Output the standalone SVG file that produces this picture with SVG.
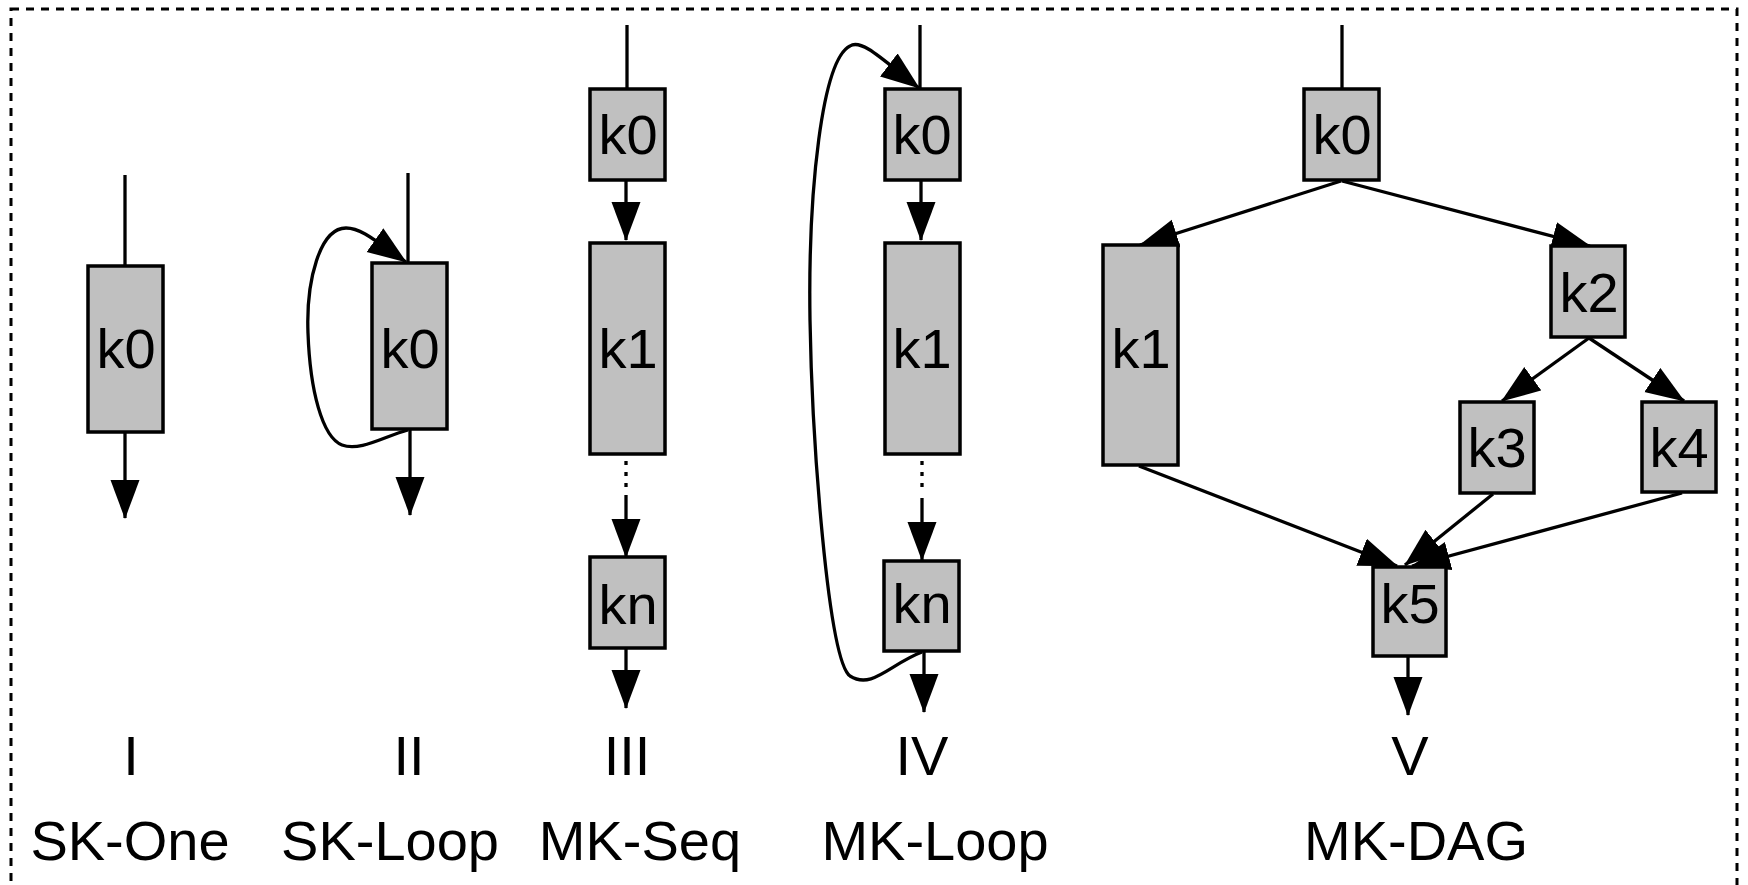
<svg xmlns="http://www.w3.org/2000/svg" width="1748" height="885" viewBox="0 0 1748 885">
<style>
.bg{fill:#fff}
.frame{fill:none;stroke:#000;stroke-width:3;stroke-dasharray:8 7}
.box{fill:#c0c0c0;stroke:#000;stroke-width:3.5}
.t{font-family:"Liberation Sans",Arial,sans-serif;font-size:56px;fill:#000;text-anchor:middle}
.e{fill:none;stroke:#000;stroke-width:3.3}
.a{marker-end:url(#ah)}
.dot{fill:none;stroke:#000;stroke-width:3.3;stroke-dasharray:4 7}
</style>
<defs>
<marker id="ah" markerUnits="userSpaceOnUse" markerWidth="40" markerHeight="30" refX="38" refY="14.5" orient="auto">
<path d="M0,0 L39,14.5 L0,29 z" fill="#000"/>
</marker>
</defs>
<rect class="bg" x="0" y="0" width="1748" height="885"/>
<rect class="frame" x="11" y="9" width="1726" height="900"/>

<g id="connectors">
<!-- I -->
<line class="e" x1="125" y1="175" x2="125" y2="266"/>
<line class="e a" x1="125" y1="432" x2="125" y2="518"/>
<!-- II -->
<line class="e" x1="408" y1="173" x2="408" y2="263"/>
<line class="e a" x1="410" y1="429" x2="410" y2="515"/>
<path class="e a" d="M408,430 C385,436 360,452 342,445 C322,437 310,390 308,333 C306,280 320,228 346,228 C360,228 372,238 406,262"/>
<!-- III -->
<line class="e" x1="627" y1="25" x2="627" y2="89"/>
<line class="e a" x1="626" y1="180" x2="626" y2="240"/>
<line class="dot" x1="626" y1="461" x2="626" y2="490"/>
<line class="e a" x1="626" y1="495" x2="626" y2="557"/>
<line class="e a" x1="626" y1="648" x2="626" y2="708"/>
<!-- IV -->
<line class="e" x1="920" y1="25" x2="920" y2="89"/>
<line class="e a" x1="921" y1="180" x2="921" y2="240"/>
<line class="dot" x1="922" y1="461" x2="922" y2="490"/>
<line class="e a" x1="922" y1="498" x2="922" y2="560"/>
<line class="e a" x1="924" y1="651" x2="924" y2="712"/>
<path class="e a" d="M922,652 C890,664 872,690 850,676 C828,660 812,440 810,320 C808,190 822,60 850,46 C862,38 885,62 919,88"/>
<!-- V -->
<line class="e" x1="1342" y1="25" x2="1342" y2="89"/>
<line class="e a" x1="1341" y1="181" x2="1140" y2="245"/>
<line class="e a" x1="1342" y1="181" x2="1590" y2="246"/>
<line class="e a" x1="1589" y1="338" x2="1502" y2="401"/>
<line class="e a" x1="1589" y1="338" x2="1684" y2="401"/>
<line class="e a" x1="1139" y1="466" x2="1397" y2="566"/>
<line class="e a" x1="1493" y1="494" x2="1405" y2="565"/>
<line class="e a" x1="1682" y1="493" x2="1412" y2="566"/>
<line class="e a" x1="1408" y1="657" x2="1408" y2="715"/>
</g>

<g id="I-k0"><rect class="box" x="88" y="266" width="75" height="166"/><text class="t" x="126" y="368">k0</text></g>
<g id="II-k0"><rect class="box" x="372" y="263" width="75" height="166"/><text class="t" x="410" y="368">k0</text></g>

<g id="III-k0"><rect class="box" x="590" y="89" width="75" height="91"/><text class="t" x="628" y="154">k0</text></g>
<g id="III-k1"><rect class="box" x="590" y="243" width="75" height="211"/><text class="t" x="628" y="368">k1</text></g>
<g id="III-kn"><rect class="box" x="590" y="557" width="75" height="91"/><text class="t" x="628" y="624">kn</text></g>

<g id="IV-k0"><rect class="box" x="885" y="89" width="75" height="91"/><text class="t" x="922" y="154">k0</text></g>
<g id="IV-k1"><rect class="box" x="885" y="243" width="75" height="211"/><text class="t" x="922" y="368">k1</text></g>
<g id="IV-kn"><rect class="box" x="884" y="561" width="75" height="90"/><text class="t" x="922" y="623">kn</text></g>

<g id="V-k0"><rect class="box" x="1304" y="89" width="75" height="91"/><text class="t" x="1342" y="154">k0</text></g>
<g id="V-k1"><rect class="box" x="1103" y="245" width="75" height="220"/><text class="t" x="1141" y="368">k1</text></g>
<g id="V-k2"><rect class="box" x="1551" y="246" width="74" height="91"/><text class="t" x="1589" y="312">k2</text></g>
<g id="V-k3"><rect class="box" x="1460" y="402" width="74" height="91"/><text class="t" x="1497" y="467">k3</text></g>
<g id="V-k4"><rect class="box" x="1642" y="402" width="74" height="90"/><text class="t" x="1679" y="467">k4</text></g>
<g id="V-k5"><rect class="box" x="1373" y="567" width="73" height="89"/><text class="t" x="1410" y="623">k5</text></g>

<g id="labels">
<text class="t" x="131" y="775">I</text>
<text class="t" x="130" y="860">SK-One</text>
<text class="t" x="409" y="775">II</text>
<text class="t" x="390" y="860">SK-Loop</text>
<text class="t" x="627" y="775">III</text>
<text class="t" x="640" y="860">MK-Seq</text>
<text class="t" x="922" y="775">IV</text>
<text class="t" x="935" y="860">MK-Loop</text>
<text class="t" x="1410" y="775">V</text>
<text class="t" x="1416" y="860">MK-DAG</text>
</g>
</svg>
